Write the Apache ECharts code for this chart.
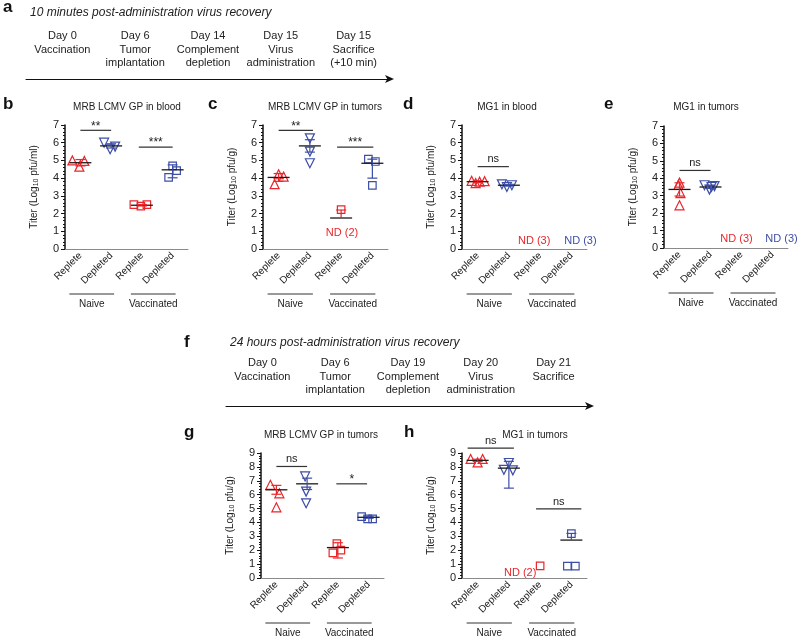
<!DOCTYPE html>
<html><head><meta charset="utf-8">
<script src="https://cdn.jsdelivr.net/npm/echarts@6/dist/echarts.min.js"></script>
<style>html,body{margin:0;padding:0;background:#fff}#c{width:800px;height:639px}</style>
</head><body><div id="c"></div>
<script>
const FONT = '"Liberation Sans", Arial, sans-serif';
const RED = '#e8262b', BLUE = '#3d4ea6', INK = '#222';

// ---------- shared labels ----------
const xCategories = ['Replete', 'Depleted', 'Replete', 'Depleted'];
const groupNames = ['Naive', 'Vaccinated'];
const groupSpans = [[0, 1], [2, 3]];
const timelineA = ['Day 0\nVaccination', 'Day 6\nTumor\nimplantation', 'Day 14\nComplement\ndepletion', 'Day 15\nVirus\nadministration', 'Day 15\nSacrifice\n(+10 min)'];
const timelineF = ['Day 0\nVaccination', 'Day 6\nTumor\nimplantation', 'Day 19\nComplement\ndepletion', 'Day 20\nVirus\nadministration', 'Day 21\nSacrifice'];

// ---------- panel b : MRB LCMV GP in blood ----------
const bValues = [[5.0, 4.65, 4.97], [6.0, 5.63, 5.78], [2.5, 2.42, 2.5], [4.69, 4.43, 4.04]];
const bJitter = [[-8, -1, 4], [-7, -1, 4], [-8, -1, 5], [0, 4, -4]];
const bMean = [4.87, 5.82, 2.47, 4.47];
const bErrUp = [0.18, 0.12, 0.04, 0.28];
const bErrDown = [0.18, 0.12, 0.04, 0.45];
const bSig = [{ from: 0, to: 1, y: 6.7, text: '**' }, { from: 1.9, to: 3, y: 5.75, text: '***' }];
const bND = [];

// ---------- panel c : MRB LCMV GP in tumors ----------
const cValues = [[3.66, 4.22, 4.09], [6.25, 5.5, 4.84], [2.22], [5.07, 4.94, 3.59]];
const cJitter = [[-4, 0, 5], [0, 0, 0], [0], [-4, 3, 0]];
const cMean = [4.04, 5.82, 1.75, 4.84];
const cErrUp = [0.22, 0.35, 0.45, 0.23];
const cErrDown = [0.22, 0.35, 0, 0.84];
const cSig = [{ from: 0, to: 1.1, y: 6.7, text: '**' }, { from: 1.87, to: 3.03, y: 5.75, text: '***' }];
const cND = [{ x: 2.03, y: 0.9, text: 'ND (2)', color: RED }];

// ---------- panel d : MG1 in blood ----------
const dValues = [[3.85, 3.72, 3.8, 3.83], [3.65, 3.5, 3.6], [], []];
const dJitter = [[-6, -2, 2, 7], [-7, -2, 3], [], []];
const dMean = [3.8, 3.6, null, null];
const dErrUp = [0.05, 0.05, 0, 0];
const dErrDown = [0.05, 0.05, 0, 0];
const dSig = [{ from: 0, to: 1, y: 4.65, text: 'ns' }];
const dND = [{ x: 1.81, y: 0.47, text: 'ND (3)', color: RED }, { x: 3.29, y: 0.47, text: 'ND (3)', color: BLUE }];

// ---------- panel e : MG1 in tumors ----------
const eValues = [[3.75, 3.62, 3.15, 2.45], [3.6, 3.35, 3.55, 3.5], [], []];
const eJitter = [[0, -1, 1, 0], [-6, -1, 4, 1], [], []];
const eMean = [3.36, 3.5, null, null];
const eErrUp = [0.38, 0.08, 0, 0];
const eErrDown = [0.38, 0.08, 0, 0];
const eSig = [{ from: 0, to: 1, y: 4.45, text: 'ns' }];
const eND = [{ x: 1.84, y: 0.5, text: 'ND (3)', color: RED }, { x: 3.29, y: 0.5, text: 'ND (3)', color: BLUE }];

// ---------- panel g : MRB LCMV GP in tumors (24 h) ----------
const gValues = [[6.71, 6.1, 5.09], [7.31, 6.22, 5.38], [2.48, 1.81, 2.0], [4.42, 4.25, 4.25]];
const gJitter = [[-6, 3, 0], [-2, -1, -1], [-1, -5, 3], [-7, -1, 4]];
const gMean = [6.35, 6.78, 2.19, 4.37];
const gErrUp = [0.32, 0.41, 0.35, 0.07];
const gErrDown = [0.32, 0.41, 0.75, 0.07];
const gSig = [{ from: 0, to: 1, y: 8.03, text: 'ns' }, { from: 1.95, to: 2.95, y: 6.78, text: '*' }];
const gND = [];

// ---------- panel h : MG1 in tumors (24 h) ----------
const hValues = [[8.57, 8.32, 8.57], [8.28, 7.79, 7.75], [0.87], [0.85, 0.85, 3.2]];
const hJitter = [[-7, 0, 5], [0, -5, 4], [0], [-4, 4, 0]];
const hMean = [8.47, 7.91, null, 2.73];
const hErrUp = [0.08, 0.49, 0, 0.48];
const hErrDown = [0.08, 1.44, 0, 0];
const hSig = [{ from: -0.32, to: 1.16, y: 9.35, text: 'ns' }, { from: 1.87, to: 3.32, y: 4.97, text: 'ns' }];
const hND = [{ x: 1.36, y: 0.36, text: 'ND (2)', color: RED }];

// ---------- styling / layout ----------
const COLORS = [RED, BLUE, RED, BLUE];
const SYMBOLS = ['triangle', 'triangle', 'rect', 'rect'];
const ROTATE = [0, 180, 0, 0];
const SIZES = [9, 9, 7.5, 7.5];

const panels = [
  { box: [65, 125, 123, 124], max: 7, unit: 'pfu/ml', values: bValues, jitter: bJitter, mean: bMean, up: bErrUp, down: bErrDown, sig: bSig, nd: bND },
  { box: [263, 125, 125, 124], max: 7, unit: 'pfu/g', values: cValues, jitter: cJitter, mean: cMean, up: cErrUp, down: cErrDown, sig: cSig, nd: cND },
  { box: [462, 125, 125, 124], max: 7, unit: 'pfu/ml', values: dValues, jitter: dJitter, mean: dMean, up: dErrUp, down: dErrDown, sig: dSig, nd: dND },
  { box: [664, 126, 124, 122], max: 7, unit: 'pfu/g', values: eValues, jitter: eJitter, mean: eMean, up: eErrUp, down: eErrDown, sig: eSig, nd: eND },
  { box: [261, 453, 123, 125], max: 9, unit: 'pfu/g', values: gValues, jitter: gJitter, mean: gMean, up: gErrUp, down: gErrDown, sig: gSig, nd: gND },
  { box: [462, 453, 125, 125], max: 9, unit: 'pfu/g', values: hValues, jitter: hJitter, mean: hMean, up: hErrUp, down: hErrDown, sig: hSig, nd: hND }
];

const letter = (t, l, tp) => ({ text: t, left: l, top: tp, padding: 0, textStyle: { fontSize: 17, fontWeight: 'bold', color: '#111', fontFamily: FONT } });
const ptitle = (t, cx, tp) => ({ text: t, left: cx, top: tp, padding: 0, textAlign: 'center', textStyle: { fontSize: 10, fontWeight: 'normal', color: INK, fontFamily: FONT } });
const ititle = (t, l, tp) => ({ text: t, left: l, top: tp, padding: 0, textStyle: { fontSize: 12, fontWeight: 'normal', fontStyle: 'italic', color: INK, fontFamily: FONT } });

const option = {
  animation: false,
  backgroundColor: '#fff',
  textStyle: { fontFamily: FONT },
  title: [
    letter('a', 3, -1), ititle('10 minutes post-administration virus recovery', 30, 7),
    letter('b', 3, 96), ptitle('MRB LCMV GP in blood', 127, 102),
    letter('c', 208, 96), ptitle('MRB LCMV GP in tumors', 325, 102),
    letter('d', 403, 96), ptitle('MG1 in blood', 507, 102),
    letter('e', 604, 96), ptitle('MG1 in tumors', 706, 102),
    letter('f', 184, 334), ititle('24 hours post-administration virus recovery', 230, 337),
    letter('g', 184, 424), ptitle('MRB LCMV GP in tumors', 321, 430),
    letter('h', 404, 424), ptitle('MG1 in tumors', 535, 430)
  ],
  grid: [], xAxis: [], yAxis: [], series: []
};

function sigRender(p) {
  return function (params, api) {
    const s = p.sig[params.dataIndex];
    const a = api.coord([0, s.y]), b = api.coord([1, s.y]);
    const step = b[0] - a[0];
    const x0 = a[0] + s.from * step, x1 = a[0] + s.to * step;
    const isStar = s.text.indexOf('*') >= 0;
    return { type: 'group', children: [
      { type: 'line', shape: { x1: x0, y1: a[1], x2: x1, y2: a[1] }, style: { stroke: '#333', lineWidth: 1.2 } },
      { type: 'text', style: { x: (x0 + x1) / 2, y: a[1] - (isStar ? -2 : 2), text: s.text, align: 'center', verticalAlign: 'bottom', fontSize: isStar ? 12 : 11, fill: INK, fontFamily: FONT } }
    ] };
  };
}

panels.forEach((p, k) => {
  option.grid.push({ left: p.box[0], top: p.box[1], width: p.box[2], height: p.box[3] });
  option.xAxis.push({
    gridIndex: k, type: 'category', data: xCategories, boundaryGap: true,
    axisLine: { lineStyle: { color: '#8a8a8a', width: 1 } },
    axisTick: { alignWithLabel: true, length: 3, lineStyle: { color: '#555' } },
    axisLabel: { rotate: 45, fontSize: 10, color: INK, margin: 5, interval: 0 },
    splitLine: { show: false }
  });
  option.yAxis.push({
    gridIndex: k, type: 'value', min: 0, max: p.max, interval: 1,
    name: '{n|Titer (Log}{s|10}{n| ' + p.unit + ')}', nameLocation: 'middle', nameRotate: 90, nameGap: 25,
    nameTextStyle: { rich: { n: { fontSize: 10, color: INK, lineHeight: 12, fontFamily: FONT }, s: { fontSize: 7, color: INK, verticalAlign: 'bottom', lineHeight: 9, fontFamily: FONT } } },
    axisLine: { show: true, lineStyle: { color: '#111', width: 1.5 } },
    axisTick: { show: true, length: 4, lineStyle: { color: '#111' } },
    minorTick: { show: true, splitNumber: 5, length: 2, lineStyle: { color: '#111' } },
    splitLine: { show: false },
    axisLabel: { fontSize: 11, color: INK, margin: 6 }
  });
  for (let c = 0; c < 4; c++) {
    if (!p.values[c].length) continue;
    option.series.push({
      type: 'scatter', xAxisIndex: k, yAxisIndex: k, z: 2,
      symbol: SYMBOLS[c], symbolRotate: ROTATE[c], symbolSize: SIZES[c],
      itemStyle: { color: 'rgba(0,0,0,0)', borderColor: COLORS[c], borderWidth: 1.2, opacity: 1 },
      emphasis: { disabled: true },
      data: p.values[c].map((v, j) => ({ value: [c, v], symbolOffset: [p.jitter[c][j], 0] }))
    });
  }
  // mean + error bars
  const stats = [];
  p.mean.forEach((m, i) => { if (m != null) stats.push([i, m, p.up[i], p.down[i]]); });
  option.series.push({
    type: 'custom', xAxisIndex: k, yAxisIndex: k, z: 5, clip: false, silent: true,
    data: stats,
    renderItem: function (params, api) {
      const x = api.value(0), m = api.value(1), up = api.value(2), dn = api.value(3);
      const c = api.coord([x, m]);
      const col = COLORS[x];
      const ch = [{ type: 'line', shape: { x1: c[0] - 11, y1: c[1], x2: c[0] + 11, y2: c[1] }, style: { stroke: '#1a1a1a', lineWidth: 1.3 } }];
      if (up > 0) {
        const t = api.coord([x, m + up]);
        ch.push({ type: 'line', shape: { x1: c[0], y1: c[1], x2: c[0], y2: t[1] }, style: { stroke: col, lineWidth: 1.2 } });
        ch.push({ type: 'line', shape: { x1: c[0] - 5, y1: t[1], x2: c[0] + 5, y2: t[1] }, style: { stroke: col, lineWidth: 1.2 } });
      }
      if (dn > 0) {
        const b = api.coord([x, m - dn]);
        ch.push({ type: 'line', shape: { x1: c[0], y1: c[1], x2: c[0], y2: b[1] }, style: { stroke: col, lineWidth: 1.2 } });
        ch.push({ type: 'line', shape: { x1: c[0] - 5, y1: b[1], x2: c[0] + 5, y2: b[1] }, style: { stroke: col, lineWidth: 1.2 } });
      }
      return { type: 'group', children: ch };
    }
  });
  // significance brackets
  option.series.push({
    type: 'custom', xAxisIndex: k, yAxisIndex: k, z: 5, clip: false, silent: true,
    data: p.sig.map((s, i) => [i]),
    renderItem: sigRender(p)
  });
  // ND annotations
  if (p.nd.length) {
    option.series.push({
      type: 'custom', xAxisIndex: k, yAxisIndex: k, z: 5, clip: false, silent: true,
      data: p.nd.map((s, i) => [i]),
      renderItem: function (params, api) {
        const s = p.nd[params.dataIndex];
        const a = api.coord([0, s.y]), b = api.coord([1, s.y]);
        const x = a[0] + s.x * (b[0] - a[0]);
        return { type: 'text', style: { x: x, y: a[1], text: s.text, align: 'center', verticalAlign: 'middle', fontSize: 11, fill: s.color, fontFamily: FONT } };
      }
    });
  }
  // group lines under the axis
  option.series.push({
    type: 'custom', xAxisIndex: k, yAxisIndex: k, z: 5, clip: false, silent: true,
    data: groupSpans.map((g, i) => [i]),
    renderItem: function (params, api) {
      const g = groupSpans[params.dataIndex];
      const a = api.coord([0, 0]), b = api.coord([1, 0]);
      const step = b[0] - a[0];
      const x0 = a[0] + g[0] * step - 11, x1 = a[0] + g[1] * step + 3;
      const y = a[1] + 45;
      return { type: 'group', children: [
        { type: 'line', shape: { x1: x0, y1: y, x2: x1, y2: y }, style: { stroke: '#333', lineWidth: 1 } },
        { type: 'text', style: { x: (x0 + x1) / 2, y: y + 10, text: groupNames[params.dataIndex], align: 'center', verticalAlign: 'middle', fontSize: 10, fill: INK, fontFamily: FONT } }
      ] };
    }
  });
});

// timelines
function tlFormatter(v) {
  const parts = v.split('\n');
  const out = ['{d|' + parts[0] + '}'];
  for (let i = 1; i < 3; i++) out.push('{t|' + (parts[i] || ' ') + '}');
  return out.join('\n');
}
[[timelineA, [26, 20, 364, 59]], [timelineF, [226, 350, 364, 56]]].forEach(([labels, box]) => {
  const k = option.grid.length;
  option.grid.push({ left: box[0], top: box[1], width: box[2], height: box[3] });
  option.xAxis.push({
    gridIndex: k, type: 'category', data: labels, boundaryGap: true,
    axisLine: { lineStyle: { color: '#111', width: 1 }, symbol: ['none', 'arrow'], symbolSize: [6, 9], symbolOffset: [0, 4] },
    axisTick: { inside: true, alignWithLabel: true, length: 5, lineStyle: { color: '#111' } },
    axisLabel: { inside: true, interval: 0, margin: 10, formatter: tlFormatter, verticalAlign: 'bottom',
      rich: { d: { fontSize: 11, lineHeight: 16, color: INK, fontFamily: FONT }, t: { fontSize: 11, lineHeight: 12.5, color: INK, fontFamily: FONT } } },
    splitLine: { show: false }
  });
  option.yAxis.push({ gridIndex: k, type: 'value', min: 0, max: 1, show: false });
});

const chart = echarts.init(document.getElementById('c'), null, { renderer: 'canvas' });
chart.setOption(option);
</script></body></html>
